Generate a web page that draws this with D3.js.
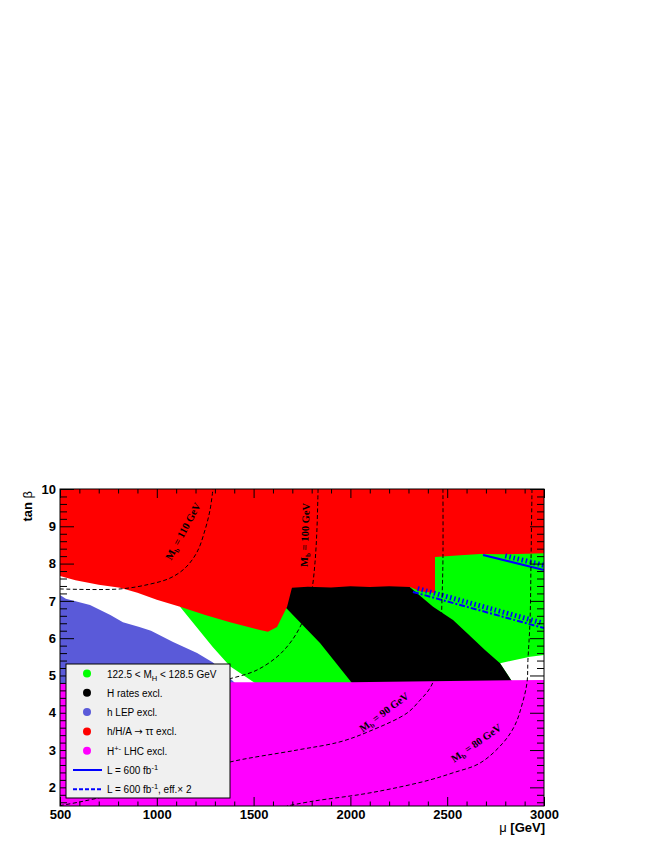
<!DOCTYPE html>
<html>
<head>
<meta charset="utf-8">
<script src="https://cdn.jsdelivr.net/npm/d3@7"></script>
<style>
  body { margin: 0; background: #fff; }
  text { font-family: "Liberation Sans", Arial, sans-serif; }
</style>
</head>
<body>
<div id="chart"></div>
<script>
// all boundaries are [mu (GeV), tan beta]
var redEdge = [[500,7.67],[580,7.55],[700,7.43],[810,7.35],[900,7.22],[1000,7.03],[1120,6.84],
  [1250,6.62],[1378,6.43],[1533,6.22],[1574,6.17],[1621,6.30],[1673,6.84],[1698,7.35],[1780,7.38],
  [1900,7.36],[2000,7.39],[2100,7.37],[2200,7.39],[2308,7.37],[2360,7.26],[2437,7.21],[2437,8.18],
  [2550,8.22],[2669,8.26],[2800,8.25],[3000,8.28]];
var lepEdge = [[500,7.16],[530,7.06],[655,6.89],[760,6.62],[825,6.43],[910,6.30],[970,6.20],
  [1084,5.90],[1208,5.60],[1290,5.35],[1404,4.80]];
var greenEdge = [[1120,6.84],[1205,6.30],[1290,5.76],[1378,5.25],[1507,4.80],[2840,4.80],
  [2773,5.33],[2928,5.50],[3000,5.55]];
var blackEdge = [[1662,6.84],[1698,7.40],[2300,7.40],[2427,6.84],[2530,6.49],[2602,6.14],
  [2695,5.68],[2773,5.33],[2840,4.80],[2008,4.80],[1843,5.87]];
var chargedTop = [[500,4.80],[1400,4.82],[2000,4.82],[3000,4.88]];

// projected sensitivity lines
var lumiLine = [[2685,8.23],[3000,7.83]];
var effLine = [[2323,7.24],[3000,6.27]];
var lumiHatchFrom = 2798, effHatchFrom = 2345;

// M_b contours
var mb110 = [[500,7.32],[810,7.32],[965,7.45],[1068,7.61],[1146,7.88],[1208,8.31],[1249,8.90],[1275,9.44],[1290,10]];
var mb100 = [[1833,10],[1827,8.9],[1817,8.02],[1801,7.29],[1776,6.76],[1740,6.30],[1688,5.87],[1621,5.50],[1507,5.12],[1350,4.88]];
var mb90 = [[500,1.51],[603,1.61],[758,1.79],[965,2.09],[1223,2.44],[1378,2.68],[1724,3.00],[1946,3.22],
  [2101,3.51],[2292,3.99],[2360,4.34],[2411,4.66],[2445,5.10],[2465,5.95],[2473,7.02],[2478,8.10],[2478,10]];
var mb80 = [[2938,10],[2933,8.10],[2928,6.49],[2917,5.41],[2912,4.80],[2886,4.21],[2850,3.67],[2788,3.19],
  [2669,2.65],[2530,2.39],[2411,2.20],[2256,2.01],[2065,1.82],[1807,1.63],[1672,1.5]];
var mbLabels = [
  { v: "110", mu: 1135, tb: 8.87, rot: -62 },
  { v: "100", mu: 1765, tb: 8.77, rot: -88 },
  { v: "90", mu: 2173, tb: 4.02, rot: -37 },
  { v: "80", mu: 2649, tb: 3.19, rot: -35 }
];

var xTicks = [500, 1000, 1500, 2000, 2500, 3000];
var yTicks = [2, 3, 4, 5, 6, 7, 8, 9, 10];

(function() {
var W = 654, H = 846;
var pL = 60, pR = 544, pT = 489, pB = 806;

var svg = d3.select("#chart").append("svg")
  .attr("width", W).attr("height", H);

var x = d3.scaleLinear().domain([500, 3000]).range([pL, pR]);
var y = d3.scaleLinear().domain([1.5, 10]).range([pB, pT]);

svg.append("defs").append("clipPath").attr("id", "plotClip")
  .append("rect").attr("x", pL).attr("y", pT)
  .attr("width", pR - pL).attr("height", pB - pT);

var plot = svg.append("g").attr("clip-path", "url(#plotClip)");

var poly = d3.line().x(function(d){ return x(d[0]); }).y(function(d){ return y(d[1]); });
var smooth = d3.line().x(function(d){ return x(d[0]); }).y(function(d){ return y(d[1]); })
  .curve(d3.curveCatmullRom);

// green first, the others sit on top of it
plot.append("path")
  .attr("d", poly(greenEdge.concat([[3000,8.6],[1120,8.6]])) + "Z")
  .attr("fill", "#00ff00");

plot.append("path")
  .attr("d", poly(blackEdge) + "Z")
  .attr("fill", "#000");

plot.append("path")
  .attr("d", poly(redEdge.concat([[3000,10.2],[500,10.2]])) + "Z")
  .attr("fill", "#ff0000");

plot.append("path")
  .attr("d", poly(lepEdge.concat([[500,4.8]])) + "Z")
  .attr("fill", "#5a5ad9");

plot.append("path")
  .attr("d", poly(chargedTop.concat([[3000,1.4],[500,1.4]])) + "Z")
  .attr("fill", "#ff00ff");

// blue lines with hatching on the upper side
var drawHatched = function(pts, hatchFrom, dash) {
  plot.append("path")
    .attr("d", poly(pts))
    .attr("fill", "none")
    .attr("stroke", "#0000ff")
    .attr("stroke-width", 2)
    .attr("stroke-dasharray", dash);

  var x0 = x(pts[0][0]), y0 = y(pts[0][1]);
  var x1 = x(pts[1][0]), y1 = y(pts[1][1]);
  var len = Math.hypot(x1 - x0, y1 - y0);
  var dx = (x1 - x0) / len, dy = (y1 - y0) / len;
  var nx = dy, ny = -dx;
  var start = (x(hatchFrom) - x0) / dx;
  for (var t = start; t < len - 2; t += 4.2) {
    var px = x0 + dx * t, py = y0 + dy * t;
    plot.append("line")
      .attr("x1", px + nx * 2).attr("y1", py + ny * 2)
      .attr("x2", px + nx * 7).attr("y2", py + ny * 7)
      .attr("stroke", "#0000ff")
      .attr("stroke-width", 1.5);
  }
};
drawHatched(lumiLine, lumiHatchFrom, null);
drawHatched(effLine, effHatchFrom, "6,2,2,2");

// M_b contours
[mb110, mb100, mb90, mb80].forEach(function(c) {
  plot.append("path")
    .attr("d", smooth(c))
    .attr("fill", "none")
    .attr("stroke", "#000")
    .attr("stroke-width", 1)
    .attr("stroke-dasharray", "4,2.5");
});

mbLabels.forEach(function(l) {
  var t = plot.append("text")
    .attr("transform", "translate(" + x(l.mu) + "," + y(l.tb) + ") rotate(" + l.rot + ")")
    .attr("text-anchor", "middle")
    .attr("dy", "0.35em")
    .style("font-family", "'Liberation Serif', 'Times New Roman', serif")
    .style("font-weight", "bold")
    .style("font-size", "10.5px");
  t.append("tspan").text("M");
  t.append("tspan").attr("dy", 2.5).style("font-size", "7px").text("b");
  t.append("tspan").attr("dy", -2.5).text(" = " + l.v + " GeV");
});

// frame and ticks
svg.append("rect")
  .attr("x", pL).attr("y", pT)
  .attr("width", pR - pL).attr("height", pB - pT)
  .attr("fill", "none").attr("stroke", "#000").attr("stroke-width", 1);

var xMinor = d3.range(600, 3000, 100).filter(function(v){ return v % 500 !== 0; });
var yMinor = d3.range(16, 100, 2).map(function(v){ return v / 10; })
  .filter(function(v){ return v % 1 !== 0; });

var addAxis = function(axis, tr, vals, size, labels) {
  var g = svg.append("g").attr("transform", tr)
    .call(axis.tickValues(vals).tickSizeInner(-size).tickSizeOuter(0)
      .tickPadding(labels ? 4 : 0).tickFormat(labels ? d3.format("d") : ""));
  g.select(".domain").remove();
  g.selectAll("line").attr("stroke", "#000");
  g.selectAll("text")
    .style("font-family", "'Liberation Sans', Arial, sans-serif")
    .style("font-weight", "bold")
    .style("font-size", "13px")
    .attr("fill", "#000");
  return g;
};

addAxis(d3.axisBottom(x), "translate(0," + pB + ")", xTicks, 9, true);
addAxis(d3.axisBottom(x), "translate(0," + pB + ")", xMinor, 4.5, false);
addAxis(d3.axisTop(x), "translate(0," + pT + ")", xTicks, 9, false);
addAxis(d3.axisTop(x), "translate(0," + pT + ")", xMinor, 4.5, false);
addAxis(d3.axisLeft(y), "translate(" + pL + ",0)", yTicks, 14, true);
addAxis(d3.axisLeft(y), "translate(" + pL + ",0)", yMinor, 7, false);
addAxis(d3.axisRight(y), "translate(" + pR + ",0)", yTicks, 14, false);
addAxis(d3.axisRight(y), "translate(" + pR + ",0)", yMinor, 7, false);

// axis titles
var yt = svg.append("text")
  .attr("transform", "translate(32," + (pT + 2) + ") rotate(-90)")
  .attr("text-anchor", "end")
  .style("font-size", "13px");
yt.append("tspan").style("font-weight", "bold").text("tan ");
yt.append("tspan").text("β");

var xt = svg.append("text")
  .attr("x", pR + 1).attr("y", 832)
  .attr("text-anchor", "end")
  .style("font-size", "13px");
xt.append("tspan").text("μ ");
xt.append("tspan").style("font-weight", "bold").text("[GeV]");

// legend
var legendItems = [
  { type: "dot", color: "#00ff00", label: "122.5 < M", sub: "H", rest: " < 128.5 GeV" },
  { type: "dot", color: "#000000", label: "H rates excl." },
  { type: "dot", color: "#5a5ad9", label: "h LEP excl." },
  { type: "dot", color: "#ff0000", label: "h/H/A ", arrow: "→", rest: " ττ excl." },
  { type: "dot", color: "#ff00ff", label: "H", sup: "+-", rest: " LHC excl." },
  { type: "line", dash: null, label: "L = 600 fb", sup: "-1" },
  { type: "line", dash: "4,2", label: "L = 600 fb", sup: "-1", rest: ", eff.× 2" }
];

var lg = svg.append("g").attr("transform", "translate(66,664)");
lg.append("rect")
  .attr("width", 164).attr("height", 134)
  .attr("fill", "#f0f0f0").attr("stroke", "#000").attr("stroke-width", 1);

var rows = lg.selectAll(".entry")
  .data(legendItems)
  .enter().append("g")
    .attr("class", "entry")
    .attr("transform", function(d, i) { return "translate(0," + (9.5 + i * 19.3) + ")"; });

rows.filter(function(d){ return d.type === "dot"; })
  .append("circle")
    .attr("cx", 21).attr("cy", 0).attr("r", 4)
    .attr("fill", function(d){ return d.color; });

rows.filter(function(d){ return d.type === "line"; })
  .append("line")
    .attr("x1", 7).attr("x2", 36).attr("y1", 0).attr("y2", 0)
    .attr("stroke", "#0000ff").attr("stroke-width", 2)
    .attr("stroke-dasharray", function(d){ return d.dash; });

rows.each(function(d) {
  var t = d3.select(this).append("text")
    .attr("x", 41).attr("y", 4)
    .style("font-size", "10px");
  t.append("tspan").text(d.label);
  if (d.arrow) {
    t.append("tspan").style("font-family", "'DejaVu Sans', sans-serif").text(d.arrow);
    t.append("tspan").text(d.rest);
  } else if (d.sub) {
    t.append("tspan").attr("dy", 3).style("font-size", "7.5px").text(d.sub);
    t.append("tspan").attr("dy", -3).text(d.rest);
  } else if (d.sup) {
    t.append("tspan").attr("dy", -4).style("font-size", "7.5px").text(d.sup);
    if (d.rest) t.append("tspan").attr("dy", 4).text(d.rest);
  }
});
})();
</script>
</body>
</html>
